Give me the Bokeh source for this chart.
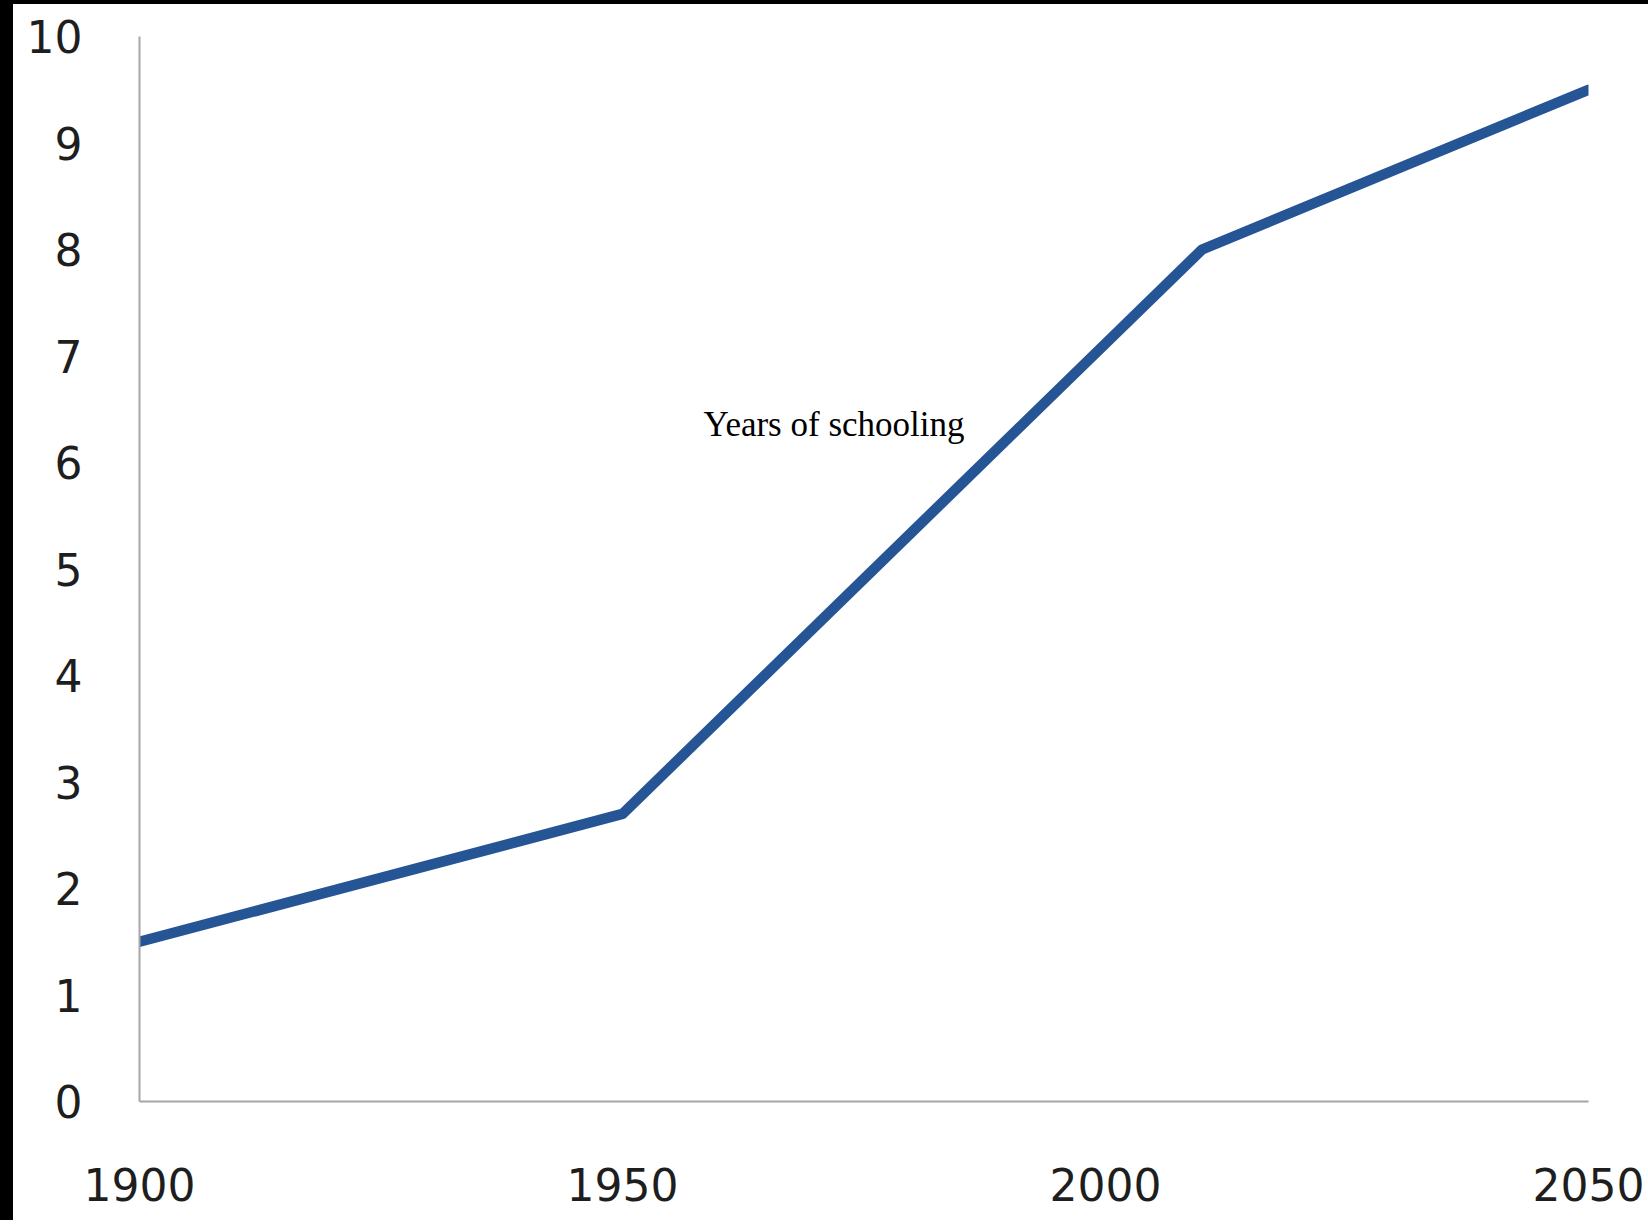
from bokeh.plotting import figure
from bokeh.models import Range1d, FixedTicker, Label, Div
from bokeh.layouts import row, column
from bokeh.embed import file_html
from bokeh.resources import INLINE

years = [1900, 1950, 2010, 2050]
schooling = [1.5, 2.7, 8.0, 9.5]
x_ticks = [1900, 1950, 2000, 2050]
y_ticks = list(range(0, 11))
annotation_text = "Years of schooling"

p = figure(width=1635, height=1216, output_backend="svg", toolbar_location=None,
           x_range=Range1d(1900, 2050), y_range=Range1d(0, 10),
           frame_width=1449, frame_height=1065,
           min_border_left=126, min_border_top=32, min_border_right=60, min_border_bottom=119)
p.outline_line_color = None
p.background_fill_color = "white"
p.border_fill_color = "white"
p.xgrid.grid_line_color = None
p.ygrid.grid_line_color = None

p.line(years, schooling, line_color="#265596", line_width=10.5, line_cap="round", line_join="round")

for ax in (p.xaxis[0], p.yaxis[0]):
    ax.axis_line_color = "#A6A6A6"
    ax.axis_line_width = 2
    ax.major_tick_line_color = None
    ax.minor_tick_line_color = None
    ax.major_tick_out = 0
    ax.major_tick_in = 0
    ax.major_label_text_font = "DejaVu Sans"
    ax.major_label_text_font_size = "44px"
    ax.major_label_text_color = "#1E1E1E"

p.xaxis[0].ticker = FixedTicker(ticks=x_ticks)
p.yaxis[0].ticker = FixedTicker(ticks=y_ticks)
p.xaxis[0].major_label_standoff = 66
p.yaxis[0].major_label_standoff = 57

p.add_layout(Label(x=1971.9, y=6.36, text=annotation_text, text_font="Liberation Serif",
                   text_font_size="35px", text_align="center", text_baseline="alphabetic",
                   text_color="black"))

top_strip = Div(text="", width=1648, height=4, margin=0, styles={"background-color": "black"})
left_strip = Div(text="", width=13, height=1216, margin=0, styles={"background-color": "black"})
layout = column(top_strip, row(left_strip, p, spacing=0), spacing=0)

open("out.html", "w").write(file_html(layout, INLINE))
